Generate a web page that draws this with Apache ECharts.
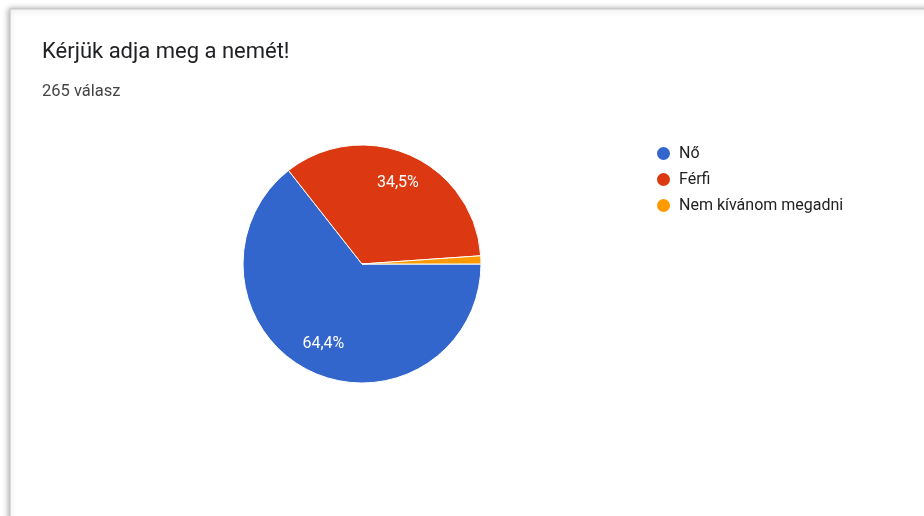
<!DOCTYPE html>
<html>
<head>
<meta charset="utf-8">
<script src="https://cdn.jsdelivr.net/npm/echarts@6/dist/echarts.min.js"></script>
<style>
	html,body{margin:0;padding:0;background:#fff;}
	#g_canvas{width:924px;height:516px;}
</style>
</head>
<body>
<div id="g_canvas"></div>
<script>
// adatok
var categories = ['Nő', 'Férfi', 'Nem kívánom megadni'];
var percents = [64.4, 34.5, 1.1];
var colors = ['#3366cc', '#dc3912', '#ff9900'];
var titleText = 'Kérjük adja meg a nemét!';
var subText = '265 válasz';

var pieData = [];
for (let i = 0; i < categories.length; i++) {
	pieData.push({ name: categories[i], value: percents[i] });
}

function fmt(p) {
	if (p.value < 5) return '';
	return p.value.toFixed(1).replace('.', ',') + '%';
}

var option = {
	animation: false,
	color: colors,
	textStyle: { fontFamily: 'Roboto' },
	graphic: [{
		type: 'rect',
		z: -10,
		shape: { x: 10, y: 9, width: 940, height: 540 },
		style: {
			fill: '#fff',
			stroke: '#c4c4c4',
			lineWidth: 1,
			shadowBlur: 6,
			shadowColor: 'rgba(0,0,0,0.35)',
			shadowOffsetX: -1,
			shadowOffsetY: 0
		}
	}],
	title: {
		text: titleText,
		subtext: subText,
		left: 37,
		top: 36,
		itemGap: 20,
		textStyle: { fontSize: 22, fontWeight: 'normal', color: '#202124', fontFamily: 'Roboto' },
		subtextStyle: { fontSize: 16.5, color: '#444', fontFamily: 'Roboto' }
	},
	legend: {
		orient: 'vertical',
		left: 650,
		top: 140,
		icon: 'circle',
		itemWidth: 15,
		itemHeight: 15,
		itemGap: 9,
		data: categories,
		textStyle: { fontSize: 16, color: '#222', fontFamily: 'Roboto', padding: [0, 0, 0, 3] }
	},
	series: [{
		type: 'pie',
		center: [362, 264],
		radius: [0, 119],
		startAngle: 0,
		clockwise: true,
		data: pieData,
		label: { show: false },
		labelLine: { show: false },
		itemStyle: { borderColor: '#fff', borderWidth: 1 },
		emphasis: { disabled: true }
	}, {
		// csak a feliratok, 0.72r tavolsagra
		type: 'pie',
		center: [362, 264],
		radius: [52, 119],
		startAngle: 0,
		clockwise: true,
		silent: true,
		data: pieData,
		z: 5,
		itemStyle: { color: 'rgba(0,0,0,0)', borderWidth: 0 },
		label: {
			show: true,
			position: 'inside',
			formatter: fmt,
			color: '#fff',
			fontSize: 16,
			fontFamily: 'Roboto',
			textBorderWidth: 0
		},
		labelLine: { show: false },
		emphasis: { disabled: true }
	}]
};
var myChart = echarts.init(document.getElementById('g_canvas'));
myChart.setOption(option);
</script>
</body>
</html>
